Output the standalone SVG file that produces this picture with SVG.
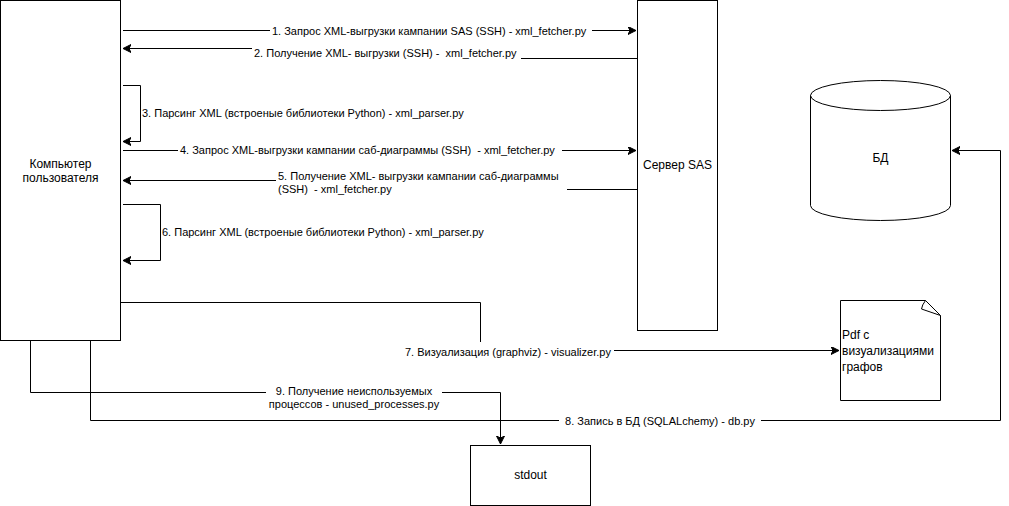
<svg xmlns="http://www.w3.org/2000/svg" width="1009" height="506" viewBox="0 0 1009 506">
<style>
.node{fill:#fff;stroke:#000;stroke-width:1}
.t{font-family:"Liberation Sans",Arial,sans-serif;font-size:12px;fill:#000}
.l{font-family:"Liberation Sans",Arial,sans-serif;font-size:11px;fill:#000;white-space:pre}
.c{fill:none;stroke:#000;stroke-width:1}
.bg{fill:#fff;stroke:none}
</style>
<defs>
<marker id="arr" markerUnits="userSpaceOnUse" markerWidth="10" markerHeight="10" refX="8" refY="4" orient="auto">
<path d="M0,0 L8,4 L0,8 L2,4 Z" fill="#000" stroke="#000" stroke-width="1"/>
</marker>
</defs>
<rect width="1009" height="506" fill="#fff"/>
<g id="computer">
<rect class="node" x="0.5" y="0.5" width="120" height="340"/>
<text class="t" x="60.5" y="168" text-anchor="middle">Компьютер</text>
<text class="t" x="60.5" y="182" text-anchor="middle">пользователя</text>
</g>
<g id="server">
<rect class="node" x="637.5" y="0.5" width="80" height="330"/>
<text class="t" x="677.5" y="169" text-anchor="middle">Сервер SAS</text>
</g>
<g id="db">
<path class="node" d="M810.5,95.5 A70,15 0 0,1 950.5,95.5 V205.5 A70,15 0 0,1 810.5,205.5 Z"/>
<path class="c" d="M810.5,95.5 A70,15 0 0,0 950.5,95.5"/>
<text class="t" x="880.5" y="162" text-anchor="middle">БД</text>
</g>
<g id="pdf">
<path class="node" d="M840.5,300.5 H925.5 L940.5,315.5 V400.5 H840.5 Z"/>
<path class="c" d="M925.5,300.5 Q922,305 921.5,309 L940.5,315.5"/>
<text class="t" x="842" y="339">Pdf с</text>
<text class="t" x="842" y="355">визуализациями</text>
<text class="t" x="842" y="371">графов</text>
</g>
<g id="stdout">
<rect class="node" x="470.5" y="445.5" width="120" height="60"/>
<text class="t" x="530.5" y="479" text-anchor="middle">stdout</text>
</g>
<g id="connectors">
<path class="c" d="M123,30.5 H636" marker-end="url(#arr)"/>
<rect class="bg" x="270" y="24" width="322" height="13"/>
<text class="l" x="272" y="34.5">1. Запрос XML-выгрузки кампании SAS (SSH) - xml_fetcher.py</text>

<path class="c" d="M637,58.5 H387.5 V48.5 H123" marker-end="url(#arr)"/>
<rect class="bg" x="252" y="46" width="269" height="15"/>
<text class="l" x="254" y="57" xml:space="preserve">2. Получение XML- выгрузки (SSH) -  xml_fetcher.py</text>

<path class="c" d="M123,85.5 H140.5 V141.5 H123" marker-end="url(#arr)"/>
<text class="l" x="142" y="117">3. Парсинг XML (встроеные библиотеки Python) - xml_parser.py</text>

<path class="c" d="M123,150.5 H636" marker-end="url(#arr)"/>
<rect class="bg" x="178" y="144" width="384" height="13"/>
<text class="l" x="180" y="154" xml:space="preserve">4. Запрос XML-выгрузки кампании саб-диаграммы (SSH)  - xml_fetcher.py</text>

<path class="c" d="M637,189.5 H420.5 V180.5 H123" marker-end="url(#arr)"/>
<rect class="bg" x="276" y="168" width="291" height="28"/>
<text class="l" x="278" y="179.5">5. Получение XML- выгрузки кампании саб-диаграммы</text>
<text class="l" x="278" y="193" xml:space="preserve">(SSH)  - xml_fetcher.py</text>

<path class="c" d="M123,204.5 H160.5 V260.5 H123" marker-end="url(#arr)"/>
<text class="l" x="162" y="236">6. Парсинг XML (встроеные библиотеки Python) - xml_parser.py</text>

<path class="c" d="M121,302.5 H480.5 V350.5 H839" marker-end="url(#arr)"/>
<rect class="bg" x="403" y="342" width="211" height="15"/>
<text class="l" x="405" y="355.5">7. Визуализация (graphviz) - visualizer.py</text>

<path class="c" d="M90.5,341 V420.5 H1000.5 V150.5 H952" marker-end="url(#arr)"/>
<rect class="bg" x="559" y="414" width="202" height="13"/>
<text class="l" x="660" y="425" text-anchor="middle">8. Запись в БД (SQLALchemy) - db.py</text>

<path class="c" d="M30.5,341 V392.5 H500.5 V444" marker-end="url(#arr)"/>
<rect class="bg" x="266" y="384" width="176" height="27"/>
<text class="l" x="354" y="394.5" text-anchor="middle">9. Получение неиспользуемых</text>
<text class="l" x="354" y="407.5" text-anchor="middle">процессов - unused_processes.py</text>
</g>
</svg>
